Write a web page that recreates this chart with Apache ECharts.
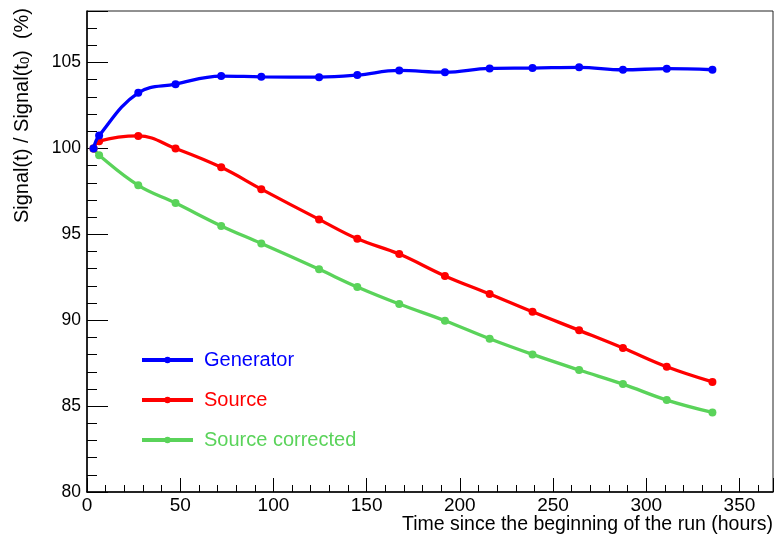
<!DOCTYPE html>
<html>
<head>
<meta charset="utf-8">
<script src="https://cdn.jsdelivr.net/npm/echarts@6/dist/echarts.min.js"></script>
<style>
  html, body { margin: 0; padding: 0; background: #fff; }
  #chart { width: 776px; height: 537px; }
</style>
</head>
<body>
<div id="chart"></div>
<script>
// Elapsed time of each measurement (hours)
const hours = [3.5, 6.5, 27.5, 47.5, 72, 93.5, 124.5, 145, 167.5, 192, 216, 239, 264, 287.5, 311, 335.5];

// Relative signal, Signal(t) / Signal(t0) in %
const generator = [100, 100.75, 103.24, 103.74, 104.21, 104.17, 104.15, 104.27, 104.54, 104.44, 104.66, 104.68, 104.72, 104.58, 104.64, 104.58];
const source = [100, 100.42, 100.73, 100.0, 98.9, 97.63, 95.87, 94.74, 93.85, 92.58, 91.53, 90.49, 89.41, 88.38, 87.29, 86.41];
const sourceCorrected = [100, 99.6, 97.85, 96.82, 95.49, 94.47, 92.96, 91.93, 90.94, 89.97, 88.92, 88.01, 87.1, 86.28, 85.35, 84.63];

const seriesNames = ['Generator', 'Source', 'Source corrected'];
const seriesColors = ['#0000ff', '#ff0000', '#5ad35a'];

const xRange = [0, 368];
const yRange = [80, 108];

const FONT = 'Liberation Sans, Arial, Helvetica, sans-serif';
const X_TITLE = 'Time since the beginning of the run (hours)';
const X_TITLE_SIZE = 19.5;

function pairs(xs, ys) {
  return xs.map((x, i) => [x, ys[i]]);
}

const chart = echarts.init(document.getElementById('chart'), null, { renderer: 'canvas' });

// x title is right-aligned to the frame edge: shift the centred name by the gap
const gridLeft = 87, gridRight = 3, chartW = 776;
const plotW = chartW - gridLeft - gridRight;
const measureCtx = document.createElement('canvas').getContext('2d');
measureCtx.font = X_TITLE_SIZE + 'px ' + FONT;
const titleW = measureCtx.measureText(X_TITLE).width;
const xTitleShift = plotW - titleW;

const lineSeries = [generator, source, sourceCorrected].map((vals, i) => ({
  name: seriesNames[i],
  type: 'line',
  xAxisIndex: 0,
  yAxisIndex: 0,
  data: pairs(hours, vals),
  smooth: 0.4,
  symbol: 'circle',
  symbolSize: 8,
  showSymbol: true,
  color: seriesColors[i],
  lineStyle: { width: 3.3, color: seriesColors[i] },
  itemStyle: { color: seriesColors[i] },
  z: 3 + (2 - i),
  animation: false
}));

chart.setOption({
  animation: false,
  backgroundColor: '#ffffff',
  grid: {
    left: gridLeft, right: gridRight, top: 11, bottom: 45,
    containLabel: false,
    outerBoundsMode: 'none',
    show: true,
    borderColor: '#222',
    borderWidth: 1
  },
  legend: {
    orient: 'vertical',
    left: 140,
    top: 350,
    padding: 0,
    itemWidth: 51,
    itemHeight: 8,
    itemGap: 20,
    lineStyle: { width: 4 },
    data: seriesNames.map((n, i) => ({
      name: n,
      textStyle: { color: seriesColors[i] }
    })),
    textStyle: {
      fontFamily: FONT,
      fontSize: 20,
      padding: [0, 0, 0, 6]
    }
  },
  xAxis: [
    {
      // fine divisions every 10 h, with labels every 50 h
      type: 'value',
      min: xRange[0], max: xRange[1],
      interval: 10,
      position: 'bottom',
      axisLine: { show: true, lineStyle: { color: '#000', width: 1.5 } },
      axisTick: { show: true, inside: true, length: 7, lineStyle: { color: '#000', width: 1 } },
      splitLine: { show: false },
      axisLabel: {
        fontFamily: FONT, fontSize: 19, color: '#000', margin: 4,
        formatter: v => (v % 50 === 0 ? String(v) : '')
      },
      name: X_TITLE,
      nameLocation: 'middle',
      nameGap: 23,
      nameMoveOverlap: false,
      nameTextStyle: {
        fontFamily: FONT, fontSize: X_TITLE_SIZE, color: '#000',
        verticalAlign: 'top',
        padding: [0, 0, 0, xTitleShift]
      }
    },
    {
      // main divisions every 50 h
      type: 'value',
      min: xRange[0], max: xRange[1],
      interval: 50,
      position: 'bottom',
      axisLine: { show: false },
      axisTick: { show: true, inside: true, length: 14, lineStyle: { color: '#000', width: 1 } },
      axisLabel: { show: false },
      splitLine: { show: false }
    }
  ],
  yAxis: [
    {
      // fine divisions every 1 %
      type: 'value',
      min: yRange[0], max: yRange[1],
      interval: 1,
      position: 'left',
      axisLine: { show: true, lineStyle: { color: '#000', width: 1.5 } },
      axisTick: { show: true, inside: true, length: 10, lineStyle: { color: '#000', width: 1 } },
      splitLine: { show: false },
      axisLabel: {
        fontFamily: FONT, fontSize: 17.5, color: '#000', margin: 6,
        formatter: v => (v % 5 === 0 ? String(v) : '')
      },
      name: 'Signal(t) / Signal(t{sub|0})  (%)',
      nameLocation: 'end',
      nameRotate: 90,
      nameGap: 3,
      nameTextStyle: {
        fontFamily: FONT, fontSize: 20, color: '#000',
        align: 'right', verticalAlign: 'bottom',
        padding: [0, 0, 55, 0],
        rich: {
          sub: { fontFamily: FONT, fontSize: 13, color: '#000', verticalAlign: 'bottom', padding: [7, 0, 0, 0] }
        }
      }
    },
    {
      // main divisions every 5 %
      type: 'value',
      min: yRange[0], max: yRange[1],
      interval: 5,
      position: 'left',
      axisLine: { show: false },
      axisTick: { show: true, inside: true, length: 21, lineStyle: { color: '#000', width: 1 } },
      axisLabel: { show: false },
      splitLine: { show: false }
    }
  ],
  series: lineSeries
});
</script>
</body>
</html>
